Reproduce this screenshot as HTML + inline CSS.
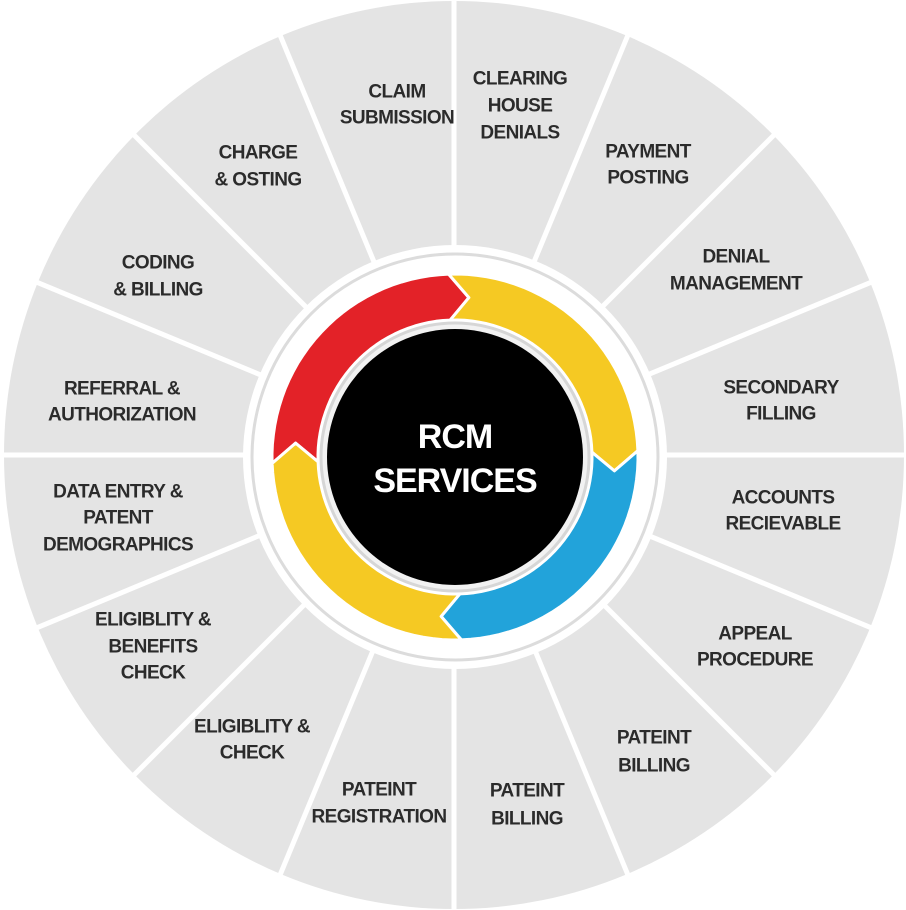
<!DOCTYPE html>
<html><head><meta charset="utf-8"><style>
html,body{margin:0;padding:0;background:#fff;}
svg{display:block}
.l{font-family:"Liberation Sans",sans-serif;font-weight:bold;font-size:19px;fill:#2b2b2b;text-anchor:middle;dominant-baseline:central;letter-spacing:-0.6px}
</style></head><body>
<svg width="906" height="910" viewBox="0 0 906 910" xmlns="http://www.w3.org/2000/svg">
<rect width="906" height="910" fill="#fff"/>
<ellipse cx="454" cy="455" rx="450" ry="454" fill="#e4e4e4"/>
<g id="div" stroke="#fff" stroke-width="5"></g>
<circle cx="455" cy="457" r="212" fill="#fff"/>
<circle cx="455" cy="457" r="203" fill="none" stroke="#dcdcdc" stroke-width="3"/>
<g id="arr" stroke="#fff" stroke-width="3"></g>
<circle cx="455" cy="457" r="134" fill="#f2f2f2" stroke="#d6d6d6" stroke-width="3"/>
<circle cx="455" cy="457" r="128" fill="#000"/>
<text x="455" y="437" font-family="Liberation Sans,sans-serif" font-weight="bold" font-size="34" fill="#fff" text-anchor="middle" dominant-baseline="central" letter-spacing="-1">RCM</text>
<text x="455" y="481" font-family="Liberation Sans,sans-serif" font-weight="bold" font-size="34" fill="#fff" text-anchor="middle" dominant-baseline="central" letter-spacing="-1">SERVICES</text>
<g class="l">
<text class="l" x="397" y="92">CLAIM</text><text class="l" x="397" y="118">SUBMISSION</text>
<text class="l" x="520" y="79">CLEARING</text><text class="l" x="520" y="106">HOUSE</text><text class="l" x="520" y="133">DENIALS</text>
<text class="l" x="648" y="152">PAYMENT</text><text class="l" x="648" y="178">POSTING</text>
<text class="l" x="736" y="257">DENIAL</text><text class="l" x="736" y="284">MANAGEMENT</text>
<text class="l" x="781" y="388">SECONDARY</text><text class="l" x="781" y="414">FILLING</text>
<text class="l" x="783" y="498">ACCOUNTS</text><text class="l" x="783" y="524">RECIEVABLE</text>
<text class="l" x="755" y="634">APPEAL</text><text class="l" x="755" y="660">PROCEDURE</text>
<text class="l" x="654" y="738">PATEINT</text><text class="l" x="654" y="766">BILLING</text>
<text class="l" x="527" y="791">PATEINT</text><text class="l" x="527" y="819">BILLING</text>
<text class="l" x="379" y="790">PATEINT</text><text class="l" x="379" y="817">REGISTRATION</text>
<text class="l" x="252" y="727">ELIGIBLITY &amp;</text><text class="l" x="252" y="753">CHECK</text>
<text class="l" x="153" y="620">ELIGIBLITY &amp;</text><text class="l" x="153" y="647">BENEFITS</text><text class="l" x="153" y="673">CHECK</text>
<text class="l" x="118" y="492">DATA ENTRY &amp;</text><text class="l" x="118" y="518">PATENT</text><text class="l" x="118" y="545">DEMOGRAPHICS</text>
<text class="l" x="122" y="389">REFERRAL &amp;</text><text class="l" x="122" y="415">AUTHORIZATION</text>
<text class="l" x="158" y="263">CODING</text><text class="l" x="158" y="290">&amp; BILLING</text>
<text class="l" x="258" y="153">CHARGE</text><text class="l" x="258" y="180">&amp; OSTING</text>
</g>
</svg>
<script>
(function(){
var ns="http://www.w3.org/2000/svg";
var d=document.getElementById("div");
for(var i=0;i<16;i++){var a=i*22.5*Math.PI/180;
var l=document.createElementNS(ns,"line");
l.setAttribute("x1",454);l.setAttribute("y1",455);
l.setAttribute("x2",454+470*Math.sin(a));l.setAttribute("y2",455-470*Math.cos(a));d.appendChild(l);}
var cx=455,cy=457,R1=137,R2=183,Rm=160,dl=7;
function P(r,t){t=t*Math.PI/180;return (cx+r*Math.sin(t)).toFixed(1)+","+(cy-r*Math.cos(t)).toFixed(1);}
function arc(r,a0,a1){var s="";var n=30;for(var k=0;k<=n;k++){var t=a0+(a1-a0)*k/n;s+=" L"+P(r,t);}return s;}
var g=document.getElementById("arr");
var segs=[[268,358,"#e32228"],[-2,88,"#f5c923"],[88,178,"#22a3da"],[178,268,"#f5c923"]];
segs.forEach(function(s){var a0=s[0],a1=s[1];
var p="M"+P(R2,a0)+arc(R2,a0,a1)+" L"+P(Rm,a1+dl)+" L"+P(R1,a1)+arc(R1,a1,a0)+" L"+P(Rm,a0+dl)+" Z";
var e=document.createElementNS(ns,"path");e.setAttribute("d",p);e.setAttribute("fill",s[2]);e.setAttribute("stroke-linejoin","round");g.appendChild(e);});
})();
</script>
</body></html>
